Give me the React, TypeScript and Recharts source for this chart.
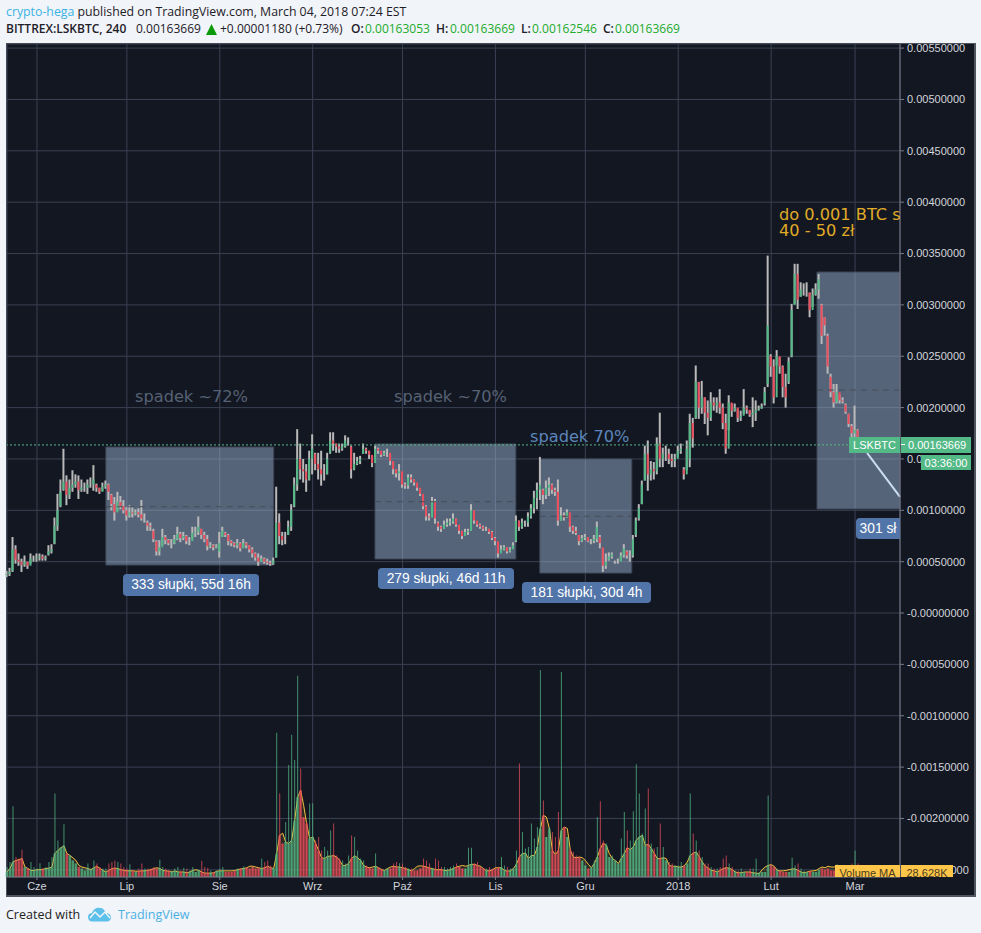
import { Area, Bar, CartesianGrid, Cell, ComposedChart, ReferenceArea, ReferenceLine, XAxis, YAxis } from "recharts";

// one sample per day, first one is 10 days before 1 June 2017. prices in 1e-5 BTC, volume in K
const firstDay = -10;

const priceLow = [
  35, 36, 40, 48, 46, 40, 45, 43, 48, 50,
  50, 51, 51, 51, 56, 58, 67, 80, 103, 119,
  105, 111, 118, 122, 111, 118, 118, 116, 122, 119,
  118, 116, 119, 121, 110, 100, 90, 100, 101, 97,
  90, 93, 93, 95, 93, 90, 88, 80, 80, 69,
  56, 56, 66, 67, 66, 63, 67, 71, 69, 71,
  67, 66, 72, 74, 76, 72, 69, 61, 63, 61,
  63, 54, 74, 74, 66, 65, 64, 63, 60, 64,
  63, 59, 54, 51, 46, 50, 48, 47, 46, 47,
  54, 67, 66, 67, 76, 80, 103, 119, 130, 127,
  118, 129, 135, 139, 130, 124, 129, 135, 155, 158,
  156, 156, 158, 161, 163, 131, 139, 144, 145, 155,
  155, 150, 142, 152, 155, 152, 153, 152, 144, 135,
  132, 129, 122, 121, 121, 127, 124, 119, 114, 101,
  90, 90, 95, 87, 80, 79, 82, 84, 85, 87,
  84, 77, 72, 76, 76, 80, 87, 84, 82, 80,
  80, 77, 71, 66, 54, 59, 61, 58, 59, 63,
  69, 80, 82, 84, 84, 92, 97, 101, 110, 106,
  111, 114, 116, 114, 85, 90, 90, 93, 79, 77,
  76, 66, 69, 71, 69, 67, 68, 69, 63, 40,
  43, 51, 53, 48, 48, 51, 54, 53, 50, 54,
  74, 90, 106, 129, 119, 129, 130, 135, 142, 142,
  148, 145, 142, 142, 152, 155, 130, 139, 142, 161,
  189, 189, 194, 184, 173, 187, 197, 195, 194, 179,
  155, 178, 191, 196, 186, 187, 194, 194, 191, 181,
  187, 197, 199, 202, 220, 230, 204, 241, 233, 210,
  200, 223, 249, 301, 296, 308, 309, 308, 288, 298,
  309, 306, 262, 270, 233, 210, 200, 204, 204, 204,
  194, 181, 171, 171, 168, 163,
];

const priceHigh = [
  41, 44, 74, 66, 58, 53, 56, 50, 58, 56,
  58, 58, 57, 56, 66, 67, 93, 116, 130, 160,
  134, 130, 139, 135, 134, 130, 127, 130, 132, 144,
  126, 122, 127, 129, 126, 116, 113, 118, 114, 110,
  103, 105, 103, 101, 102, 110, 97, 90, 88, 82,
  71, 71, 82, 76, 72, 72, 76, 84, 79, 79,
  76, 74, 84, 84, 94, 82, 79, 76, 69, 67,
  67, 79, 84, 79, 77, 71, 69, 72, 69, 72,
  69, 66, 64, 59, 58, 56, 54, 53, 51, 54,
  123, 97, 79, 79, 90, 106, 132, 179, 165, 150,
  145, 158, 174, 156, 156, 158, 145, 156, 176, 176,
  165, 165, 165, 173, 171, 163, 156, 152, 153, 165,
  161, 158, 153, 163, 161, 156, 158, 160, 155, 147,
  140, 145, 132, 127, 135, 135, 130, 126, 121, 114,
  105, 97, 113, 111, 89, 85, 90, 92, 92, 97,
  92, 85, 80, 82, 82, 106, 97, 89, 87, 85,
  84, 82, 80, 74, 66, 66, 66, 64, 64, 69,
  95, 90, 92, 90, 98, 106, 119, 127, 152, 121,
  129, 132, 126, 122, 130, 103, 98, 101, 89, 85,
  84, 76, 76, 77, 74, 72, 76, 89, 76, 63,
  58, 59, 59, 51, 53, 59, 67, 61, 61, 76,
  93, 106, 129, 163, 168, 148, 147, 171, 195, 161,
  163, 160, 155, 155, 163, 165, 142, 168, 194, 190,
  241, 225, 226, 210, 207, 215, 210, 210, 218, 204,
  194, 212, 204, 204, 199, 197, 218, 202, 197, 210,
  207, 202, 204, 220, 348, 252, 247, 256, 249, 241,
  233, 249, 301, 340, 340, 322, 321, 322, 312, 316,
  321, 330, 301, 288, 272, 233, 223, 223, 213, 210,
  204, 194, 184, 202, 179, 170,
];

const priceOpen = [
  37, 38, 41, 62, 52, 50, 47, 50, 46, 53,
  53, 54, 55, 53, 57, 60, 68, 85, 104, 120,
  128, 115, 122, 125, 128, 120, 122, 122, 125, 125,
  125, 122, 118, 123, 125, 115, 106, 98, 108, 104,
  100, 95, 98, 97, 98, 96, 92, 88, 85, 80,
  70, 60, 64, 74, 71, 68, 68, 72, 77, 73,
  75, 70, 70, 78, 79, 82, 76, 72, 65, 66,
  64, 60, 74, 78, 76, 70, 68, 66, 68, 63,
  68, 66, 62, 58, 54, 50, 53, 50, 49, 48,
  54, 88, 75, 72, 76, 84, 104, 125, 150, 140,
  138, 130, 150, 155, 145, 140, 135, 135, 156, 168,
  165, 162, 160, 162, 168, 162, 140, 145, 148, 155,
  160, 158, 154, 146, 160, 158, 154, 156, 156, 148,
  140, 136, 138, 125, 124, 132, 130, 127, 122, 116,
  104, 94, 93, 108, 88, 84, 82, 86, 88, 89,
  92, 86, 80, 75, 79, 80, 100, 90, 86, 84,
  82, 82, 79, 73, 70, 58, 62, 64, 60, 62,
  70, 90, 84, 88, 88, 94, 102, 112, 120, 120,
  115, 122, 125, 120, 118, 90, 95, 93, 98, 84,
  80, 76, 70, 73, 74, 70, 70, 72, 74, 64,
  46, 52, 55, 50, 50, 50, 56, 60, 56, 56,
  76, 92, 106, 129, 155, 135, 140, 138, 165, 150,
  155, 155, 150, 148, 150, 158, 140, 135, 150, 185,
  190, 225, 200, 210, 195, 190, 205, 202, 205, 200,
  185, 160, 205, 197, 200, 190, 192, 200, 198, 193,
  195, 198, 199, 204, 223, 250, 240, 210, 250, 240,
  220, 225, 250, 300, 330, 308, 315, 315, 312, 295,
  310, 315, 300, 288, 270, 230, 215, 205, 215, 207,
  203, 194, 182, 175, 178, 170,
];

const priceClose = [
  38, 40, 62, 52, 50, 47, 50, 46, 53, 53,
  54, 55, 53, 54, 60, 62, 85, 100, 118, 128,
  115, 122, 125, 128, 120, 122, 122, 125, 125, 130,
  122, 118, 123, 125, 118, 106, 98, 108, 104, 100,
  95, 98, 97, 98, 96, 92, 92, 85, 84, 72,
  60, 64, 74, 71, 68, 68, 72, 77, 73, 75,
  70, 70, 78, 79, 84, 76, 72, 65, 66, 64,
  65, 68, 80, 76, 70, 68, 66, 68, 63, 68,
  66, 62, 58, 54, 50, 53, 50, 49, 48, 51,
  88, 75, 71, 72, 84, 100, 125, 150, 140, 138,
  130, 150, 160, 145, 140, 135, 135, 150, 168, 165,
  162, 160, 162, 168, 168, 140, 145, 148, 150, 160,
  158, 154, 146, 160, 158, 154, 156, 156, 148, 140,
  136, 138, 125, 124, 132, 130, 127, 122, 116, 104,
  94, 93, 108, 92, 84, 82, 86, 88, 89, 92,
  86, 80, 75, 79, 80, 100, 90, 86, 84, 82,
  82, 79, 73, 70, 58, 62, 64, 60, 62, 66,
  90, 84, 88, 88, 94, 102, 112, 120, 125, 115,
  122, 125, 120, 118, 90, 95, 93, 98, 84, 80,
  78, 70, 73, 74, 70, 70, 72, 84, 68, 46,
  50, 55, 57, 50, 50, 56, 63, 56, 56, 72,
  90, 102, 125, 155, 135, 140, 138, 165, 150, 155,
  155, 150, 148, 150, 158, 160, 135, 160, 185, 170,
  225, 200, 210, 195, 190, 205, 202, 205, 200, 185,
  160, 205, 197, 200, 190, 192, 200, 198, 193, 195,
  198, 199, 201, 215, 280, 240, 210, 250, 240, 220,
  210, 245, 295, 330, 305, 315, 315, 315, 295, 310,
  315, 325, 270, 280, 240, 215, 205, 215, 207, 206,
  196, 184, 175, 178, 170, 164,
];

const volumeK = [
  26, 39, 184, 52, 48, 71, 26, 22, 39, 26,
  22, 36, 22, 26, 39, 52, 217, 95, 78, 137,
  61, 56, 43, 35, 26, 22, 17, 35, 22, 43,
  35, 26, 22, 22, 35, 39, 43, 39, 35, 26,
  22, 33, 17, 13, 22, 35, 22, 22, 22, 26,
  22, 45, 26, 22, 19, 17, 22, 26, 17, 24,
  22, 17, 26, 13, 19, 42, 26, 24, 17, 13,
  17, 22, 26, 13, 13, 13, 16, 22, 22, 28,
  24, 22, 26, 22, 24, 48, 39, 43, 30, 24,
  375, 217, 87, 143, 291, 370, 304, 523, 282, 156,
  143, 191, 192, 95, 104, 69, 78, 69, 121, 139,
  56, 48, 43, 35, 56, 108, 104, 69, 48, 43,
  30, 26, 22, 61, 26, 22, 17, 22, 22, 35,
  39, 36, 35, 26, 22, 22, 17, 17, 22, 48,
  43, 35, 22, 48, 43, 26, 26, 22, 26, 30,
  35, 26, 22, 22, 76, 76, 35, 39, 26, 22,
  22, 26, 22, 22, 26, 52, 30, 26, 22, 22,
  69, 295, 117, 74, 78, 139, 100, 130, 538, 199,
  104, 130, 117, 104, 169, 533, 130, 104, 74, 65,
  56, 52, 43, 30, 22, 26, 43, 156, 197, 95,
  87, 52, 56, 43, 35, 100, 169, 121, 95, 171,
  293, 217, 113, 178, 230, 87, 74, 78, 139, 78,
  43, 39, 35, 30, 30, 39, 30, 35, 217, 113,
  95, 69, 52, 35, 35, 26, 22, 22, 26, 48,
  56, 35, 26, 17, 17, 22, 13, 13, 22, 22,
  48, 13, 13, 13, 212, 30, 26, 22, 16, 13,
  13, 13, 50, 30, 35, 22, 17, 13, 17, 13,
  13, 19, 22, 19, 22, 17, 17, 33, 17, 28,
  22, 22, 35, 69, 35, 13,
];

const volumeMa = [
  13, 22, 39, 43, 45, 48, 26, 22, 17, 17,
  19, 19, 20, 22, 23, 26, 61, 69, 76, 81,
  61, 56, 50, 43, 30, 26, 24, 22, 19, 24,
  28, 22, 17, 13, 17, 22, 23, 22, 19, 17,
  16, 16, 16, 15, 15, 16, 16, 17, 19, 22,
  24, 22, 17, 16, 15, 13, 16, 13, 13, 13,
  11, 13, 17, 19, 17, 13, 10, 10, 10, 11,
  15, 16, 16, 16, 16, 16, 17, 19, 21, 22,
  24, 28, 28, 26, 24, 22, 24, 28, 24, 22,
  61, 108, 114, 91, 87, 95, 147, 208, 225, 186,
  139, 100, 104, 87, 69, 50, 48, 54, 54, 56,
  52, 43, 30, 30, 35, 48, 55, 50, 43, 30,
  26, 24, 26, 28, 24, 19, 17, 22, 26, 28,
  26, 26, 24, 22, 19, 16, 22, 28, 29, 28,
  26, 23, 22, 19, 19, 19, 17, 17, 19, 22,
  26, 28, 30, 28, 30, 33, 33, 30, 28, 22,
  16, 16, 19, 24, 24, 24, 17, 15, 16, 22,
  33, 52, 61, 62, 48, 56, 56, 78, 126, 160,
  156, 126, 69, 58, 69, 121, 130, 126, 69, 52,
  50, 52, 50, 43, 33, 24, 35, 52, 74, 88,
  82, 61, 48, 43, 35, 48, 61, 76, 71, 78,
  95, 104, 108, 82, 85, 74, 61, 48, 48, 50,
  48, 30, 28, 28, 26, 26, 29, 39, 56, 62,
  65, 52, 39, 28, 23, 17, 16, 13, 17, 22,
  24, 23, 19, 13, 11, 11, 13, 13, 13, 11,
  10, 9, 19, 26, 30, 32, 28, 17, 16, 16,
  17, 19, 21, 21, 17, 13, 11, 13, 15, 16,
  17, 22, 26, 24, 28, 26, 26, 28, 28, 28,
  29, 29, 29, 29, 29, 29,
];

const monthTicks = [0, 30, 61, 92, 122, 153, 183, 214, 245, 273];
const monthLabels = ["Cze", "Lip", "Sie", "Wrz", "Paź", "Lis", "Gru", "2018", "Lut", "Mar"];

const priceTicks = [
  -0.0025, -0.002, -0.0015, -0.001, -0.0005, 0, 0.0005, 0.001, 0.0015, 0.002, 0.0025, 0.003, 0.0035, 0.004, 0.0045,
  0.005, 0.0055,
];

const lastPrice = 0.00163669;

// drawn ranges: [day from, day to, price low, price high, arrow price]
const ranges = [
  [23, 79, 46.7, 161.6, 103.5],
  [112.8, 159.8, 52.6, 164.6, 108.4],
  [167.8, 198.5, 38.9, 150, 94.2],
  [260.3, 288, 101.3, 332, 217.1],
];

const chartData = priceLow.map((low, i) => ({
  day: i + firstDay,
  wick: [low / 1e5, priceHigh[i] / 1e5],
  body: [priceOpen[i] / 1e5, priceClose[i] / 1e5],
  volume: volumeK[i],
  volumeBase: Math.min(volumeK[i], volumeMa[i]),
  ma: volumeMa[i],
}));

const isUp = (i: number) => priceClose[i] >= priceOpen[i];

const UP = "#53b987";
const DOWN = "#eb4d5c";
const axisFont = { fontFamily: "'Liberation Sans', Arial, sans-serif", fontSize: 11, fill: "#d2d5da" };
const headFont = "'Open Sans', sans-serif";
const labelFont = "'Liberation Sans', Arial, sans-serif";
const drawFont = "'DejaVu Sans', Verdana, sans-serif";

function formatPrice(value: number) {
  return value === 0 ? "-0.00000000" : value.toFixed(8);
}

function Head({ x, y, color, bold, size, children }: any) {
  return (
    <div
      style={{
        position: "absolute",
        left: x,
        top: y,
        color: color ?? "#1e2028",
        fontWeight: bold ? 600 : 400,
        fontFamily: headFont,
        fontSize: size ?? 12,
        lineHeight: "16px",
        whiteSpace: "nowrap",
      }}
    >
      {children}
    </div>
  );
}

function Pill({ x, y, w, h, cut, children }: any) {
  return (
    <div
      style={{
        position: "absolute",
        left: x - 7,
        top: y - 44,
        width: w,
        height: h,
        lineHeight: `${h}px`,
        borderRadius: cut ? "4px 0 0 4px" : 4,
        background: "#5275a9",
        color: "#fff",
        textAlign: "center",
        fontFamily: labelFont,
        fontSize: 13.8,
        whiteSpace: "nowrap",
      }}
    >
      {children}
    </div>
  );
}

function DrawText({ x, y, color, children }: any) {
  return (
    <div
      style={{
        position: "absolute",
        left: x - 7,
        top: y - 44,
        color,
        fontFamily: drawFont,
        fontSize: 16.2,
        lineHeight: "16px",
        whiteSpace: "nowrap",
      }}
    >
      {children}
    </div>
  );
}

function Tag({ x, y, w, h, bg, color, pad, children }: any) {
  return (
    <div
      style={{
        position: "absolute",
        left: x,
        top: y,
        width: w - (pad ?? 0),
        height: h,
        paddingLeft: pad ?? 0,
        background: bg,
        color,
        overflow: "hidden",
        textAlign: pad ? "left" : "center",
        fontFamily: labelFont,
        fontSize: 11,
        lineHeight: "16px",
        whiteSpace: "nowrap",
      }}
    >
      {children}
    </div>
  );
}

export default function App() {
  return (
    <div style={{ position: "absolute", left: 0, top: 0, width: 981, height: 933, background: "#f1f4f9", overflow: "hidden" }}>
      <Head x={6} y={4} size={12.3}>
        <span style={{ color: "#3bb3e4" }}>crypto-hega</span> published on TradingView.com, March 04, 2018 07:24 EST
      </Head>
      <Head x={6} y={21} bold>BITTREX:LSKBTC, 240</Head>
      <Head x={136} y={21}>0.00163669</Head>
      <svg style={{ position: "absolute", left: 206, top: 24 }} width={11} height={11}>
        <polygon points="5.5,0 11,11 0,11" fill="#0a9a0a" />
      </svg>
      <Head x={220} y={21}>+0.00001180 (+0.73%)</Head>
      <Head x={351} y={21} bold>O:</Head>
      <Head x={365} y={21} color="#22ab2c">0.00163053</Head>
      <Head x={436} y={21} bold>H:</Head>
      <Head x={450} y={21} color="#22ab2c">0.00163669</Head>
      <Head x={521} y={21} bold>L:</Head>
      <Head x={532} y={21} color="#22ab2c">0.00162546</Head>
      <Head x={603} y={21} bold>C:</Head>
      <Head x={615} y={21} color="#22ab2c">0.00163669</Head>

      <div
        style={{
          position: "absolute",
          left: 6,
          top: 43,
          width: 967,
          height: 851,
          background: "#131722",
          border: "1px solid #50545e",
          borderWidth: "1px 2px 2px 1px",
        }}
      />

      <div style={{ position: "absolute", left: 0, top: 0 }}>
        <ComposedChart
          width={981}
          height={933}
          data={chartData}
          margin={{ top: 44, left: 7, right: 6, bottom: 37 }}
        >
          <CartesianGrid xAxisId="time" yAxisId="price" stroke="#3a4052" strokeWidth={1} />
          <XAxis
            xAxisId="time"
            dataKey="day"
            type="number"
            domain={[-10, 288]}
            ticks={monthTicks}
            interval={0}
            height={19}
            stroke="#787b86"
            tickSize={3}
            tick={axisFont}
            tickFormatter={(d) => monthLabels[monthTicks.indexOf(d)]}
          />
          <XAxis xAxisId="wick" orientation="top" height={0} dataKey="day" type="number" domain={[-10, 288]} hide />
          <XAxis xAxisId="body" orientation="top" height={0} dataKey="day" type="number" domain={[-10, 288]} hide />
          <XAxis xAxisId="vol" orientation="top" height={0} dataKey="day" type="number" domain={[-10, 288]} hide />
          <XAxis xAxisId="volBase" orientation="top" height={0} dataKey="day" type="number" domain={[-10, 288]} hide />
          <YAxis
            yAxisId="price"
            orientation="right"
            type="number"
            width={75}
            domain={[-0.00257, 0.00554]}
            ticks={priceTicks}
            interval={0}
            stroke="#787b86"
            tickSize={4}
            tickMargin={3}
            tick={{ ...axisFont, textAnchor: "start" }}
            tickFormatter={formatPrice}
          />
          <YAxis yAxisId="vol" type="number" domain={[0, 2166]} hide />

          <Bar xAxisId="volBase" yAxisId="vol" dataKey="volumeBase" barSize={3} isAnimationActive={false}>
            {chartData.map((_, i) => (
              <Cell key={i} fill={isUp(i) ? UP : DOWN} fillOpacity={0.6} />
            ))}
          </Bar>
          <Bar xAxisId="vol" yAxisId="vol" dataKey="volume" barSize={1} isAnimationActive={false}>
            {chartData.map((_, i) => (
              <Cell key={i} fill={isUp(i) ? UP : DOWN} fillOpacity={0.75} />
            ))}
          </Bar>
          <Area
            xAxisId="time"
            yAxisId="vol"
            dataKey="ma"
            type="linear"
            stroke="#f7c13e"
            strokeWidth={1}
            fill="#f7c13e"
            fillOpacity={0.12}
            dot={false}
            activeDot={false}
            isAnimationActive={false}
          />

          {ranges.map((r, i) => (
            <ReferenceArea
              key={i}
              xAxisId="time"
              yAxisId="price"
              x1={r[0]}
              x2={r[1]}
              y1={r[2] / 1e5}
              y2={r[3] / 1e5}
              fill="#99b1d0"
              fillOpacity={0.5}
              stroke="#3f4757"
              strokeWidth={1}
            />
          ))}
          {ranges.map((r, i) => (
            <ReferenceLine
              key={i}
              xAxisId="time"
              yAxisId="price"
              segment={[
                { x: r[0], y: r[4] / 1e5 },
                { x: r[1], y: r[4] / 1e5 },
              ]}
              stroke="#474d58"
              strokeDasharray="6 5"
            />
          ))}
          {ranges.slice(0, 3).map((r, i) => (
            <ReferenceLine
              key={i}
              xAxisId="time"
              yAxisId="price"
              segment={[
                { x: r[1] - 1.7, y: (r[4] + 4.5) / 1e5 },
                { x: r[1], y: r[4] / 1e5 },
                { x: r[1] - 1.7, y: (r[4] - 4.5) / 1e5 },
              ]}
              stroke="#474d58"
            />
          ))}

          <Bar xAxisId="wick" yAxisId="price" dataKey="wick" barSize={2} fill="#b9b9b9" isAnimationActive={false} />
          <Bar xAxisId="body" yAxisId="price" dataKey="body" barSize={2} isAnimationActive={false}>
            {chartData.map((_, i) => (
              <Cell key={i} fill={isUp(i) ? UP : DOWN} />
            ))}
          </Bar>

          <ReferenceLine xAxisId="time" yAxisId="price" y={lastPrice} stroke={UP} strokeDasharray="2 2" />
          <ReferenceLine
            xAxisId="time"
            yAxisId="price"
            segment={[
              { x: 277, y: 0.00156 },
              { x: 288, y: 0.00113 },
            ]}
            stroke="#c9dcf0"
            strokeWidth={2}
          />
        </ComposedChart>
      </div>

      {/* drawings sit over the plot and get cut at the price scale */}
      <div style={{ position: "absolute", left: 7, top: 44, width: 893, height: 833, overflow: "hidden" }}>
        <DrawText x={135} y={389} color="#566274">spadek ~72%</DrawText>
        <DrawText x={394} y={389} color="#566274">spadek ~70%</DrawText>
        <DrawText x={530} y={429} color="#5b86bb">spadek 70%</DrawText>
        <DrawText x={779} y={207} color="#e0ab27">do 0.001 BTC s</DrawText>
        <DrawText x={779} y={223} color="#e0ab27">40 - 50 zł</DrawText>
        <Pill x={123} y={574} w={136} h={22}>333 słupki, 55d 16h</Pill>
        <Pill x={378} y={568} w={136} h={21}>279 słupki, 46d 11h</Pill>
        <Pill x={522} y={582} w={129} h={21}>181 słupki, 30d 4h</Pill>
        <Pill x={856} y={518} w={44} h={21} cut>301 sł</Pill>
      </div>

      <Tag x={849} y={437} w={51} h={16} bg={UP} color="#fff">LSKBTC</Tag>
      <Tag x={901} y={437} w={70} h={16} bg={UP} color="#fff" pad={7}>0.00163669</Tag>
      <div style={{ position: "absolute", left: 901, top: 444, width: 4, height: 1, background: "#fff" }} />
      <Tag x={921} y={455} w={50} h={15} bg={UP} color="#fff">03:36:00</Tag>
      <Tag x={835} y={865} w={65} h={12} bg="#ffc64a" color="#4a3c20">Volume MA</Tag>
      <Tag x={901} y={865} w={52} h={12} bg="#ffc64a" color="#4a3c20">28.628K</Tag>

      <Head x={6} y={907} size={12.5} color="#222">Created with</Head>
      <svg style={{ position: "absolute", left: 87, top: 906 }} width={25} height={16} viewBox="0 0 25 16">
        <path
          d="M1 11 C1 8 3 7 5 7 C6 3 10 1 13 2 C16 2 18 4 18.5 7 C22 7 24 9 24 11.5 C24 14 22 15.5 20 15.5 L5 15.5 C3 15.5 1 14 1 11 Z"
          fill="#5cc0ea"
        />
        <path d="M3 12 L8 6 L13 11 L18 6 L23 12" fill="none" stroke="#f1f4f9" strokeWidth={1.5} />
      </svg>
      <Head x={118} y={907} size={12.5} color="#4bb0e5">TradingView</Head>
    </div>
  );
}
